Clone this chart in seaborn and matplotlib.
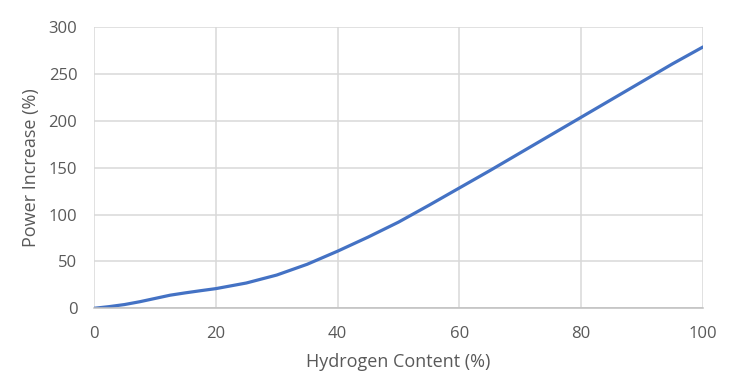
import matplotlib
matplotlib.use("Agg")
import matplotlib.pyplot as plt
import numpy as np
import pandas as pd
import seaborn as sns

# data
hydrogen_content = [0, 2.5, 5, 7.5, 10, 12.5, 15, 17.5, 20, 25, 30, 35, 40, 45, 50, 55, 60, 65, 70, 75, 80, 85, 90, 95, 100]
power_increase = [0, 1.8, 4, 7, 10.5, 14, 16.5, 18.8, 21, 27, 35.5, 47, 61, 76, 92, 110, 128.5, 147, 166, 185, 204, 223, 242, 261, 279]

df = pd.DataFrame({"Hydrogen Content (%)": hydrogen_content,
                   "Power Increase (%)": power_increase})

sns.set_style("whitegrid")
plt.rcParams['font.family'] = ['Open Sans', 'DejaVu Sans']

fig = plt.figure(figsize=(7.30, 3.91), dpi=100)
ax = fig.add_axes([0.1288, 0.2115, 0.8342, 0.7187])

sns.lineplot(data=df, x="Hydrogen Content (%)", y="Power Increase (%)",
             ax=ax, color="#4472C4", linewidth=2.3)

ax.set_xlim(0, 100)
ax.set_ylim(0, 300)
ax.set_xticks(np.arange(0, 101, 20))
ax.set_yticks(np.arange(0, 301, 50))
ax.grid(True, color="#D9D9D9", linewidth=1.1)
for side in ["top", "right", "left"]:
    ax.spines[side].set_visible(False)
ax.spines["bottom"].set_color("#BFBFBF")
ax.spines["bottom"].set_linewidth(1.1)
ax.tick_params(axis="both", length=0, labelsize=12, colors="#595959")
ax.tick_params(axis="x", pad=13)
ax.tick_params(axis="y", pad=12)
ax.set_xlabel("Hydrogen Content (%)", fontsize=13, color="#595959", labelpad=8)
ax.set_ylabel("Power Increase (%)", fontsize=13, color="#595959", labelpad=6)

fig.savefig("out.png", dpi=100)
